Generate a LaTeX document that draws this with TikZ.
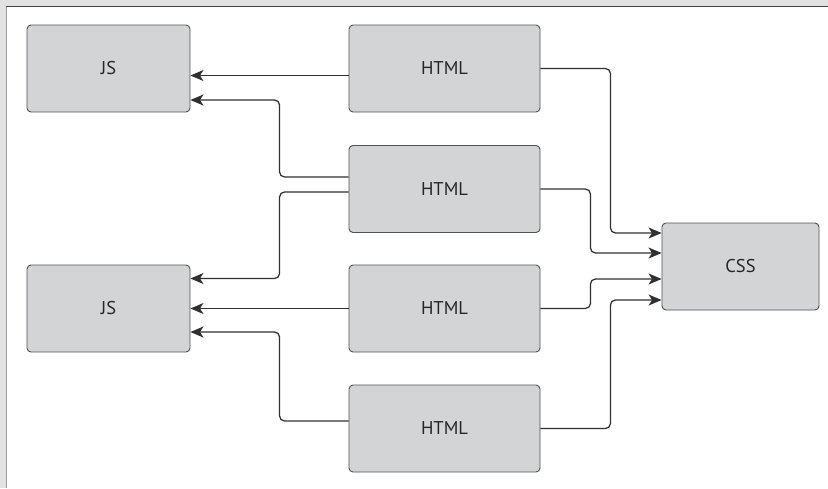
\documentclass[tikz,border=0pt]{standalone}
\usepackage{fontspec}
\setmainfont{PT Sans}
\usetikzlibrary{arrows.meta}
\definecolor{boxfill}{HTML}{D3D4D6}
\definecolor{boxline}{HTML}{505050}
\definecolor{wire}{HTML}{303030}
\definecolor{band}{HTML}{E2E2E2}
\tikzset{
  blk/.style={draw=boxline, fill=boxfill, line width=0.9pt, rounded corners=4pt,
    inner sep=0pt, font=\fontsize{18.5}{22}\selectfont, text=black!85},
  jsbox/.style={blk, minimum width=163pt, minimum height=87pt},
  htmlbox/.style={blk, minimum width=191pt, minimum height=87pt},
  cssbox/.style={blk, minimum width=157pt, minimum height=87pt},
  wirearrow/.style={draw=wire, line width=1.25pt, rounded corners=5pt,
    -{Stealth[length=13pt,width=11pt,inset=3.5pt]}}
}
\begin{document}
\begin{tikzpicture}[x=1pt,y=-1pt]
  % page frame
  \useasboundingbox (0,0) rectangle (828,488);
  \fill[band] (0,0) rectangle (828,488);
  \fill[white] (7,7) rectangle (828,488);
  \draw[black!40, line width=1.2pt] (6.5,6) -- (6.5,488);
  \draw[black!75, line width=1.2pt] (6,6.5) -- (828,6.5);

  % boxes
  \node[jsbox] (js1) at (108.5,68.5) {JS};
  \node[jsbox] (js2) at (108.5,308.5) {JS};
  \node[htmlbox] (h1) at (444.5,68.5) {HTML};
  \node[htmlbox] (h2) at (444.5,189) {HTML};
  \node[htmlbox] (h3) at (444.5,308.5) {HTML};
  \node[htmlbox] (h4) at (444.5,428.5) {HTML};
  \node[cssbox] (css) at (740.5,266.5) {CSS};

  % links to the scripts
  \draw[wirearrow] ([yshift=-7pt]h1.west) -- ([yshift=-7pt]js1.east);
  \draw[wirearrow] ([yshift=12pt]h2.west) -- ++(-69,0) |- ([yshift=-31.5pt]js1.east);
  \draw[wirearrow] ([yshift=-3pt]h2.west) -- ++(-69,0) |- ([yshift=30pt]js2.east);
  \draw[wirearrow] (h3.west) -- (js2.east);
  \draw[wirearrow] ([yshift=7.5pt]h4.west) -- ++(-69,0) |- ([yshift=-23.5pt]js2.east);

  % links to the stylesheet
  \draw[wirearrow] (h1.east) -- ++(70,0) |- ([yshift=33.5pt]css.west);
  \draw[wirearrow] (h2.east) -- ++(50,0) |- ([yshift=13.5pt]css.west);
  \draw[wirearrow] (h3.east) -- ++(50,0) |- ([yshift=-12.5pt]css.west);
  \draw[wirearrow] (h4.east) -- ++(70,0) |- ([yshift=-33.5pt]css.west);
\end{tikzpicture}
\end{document}
